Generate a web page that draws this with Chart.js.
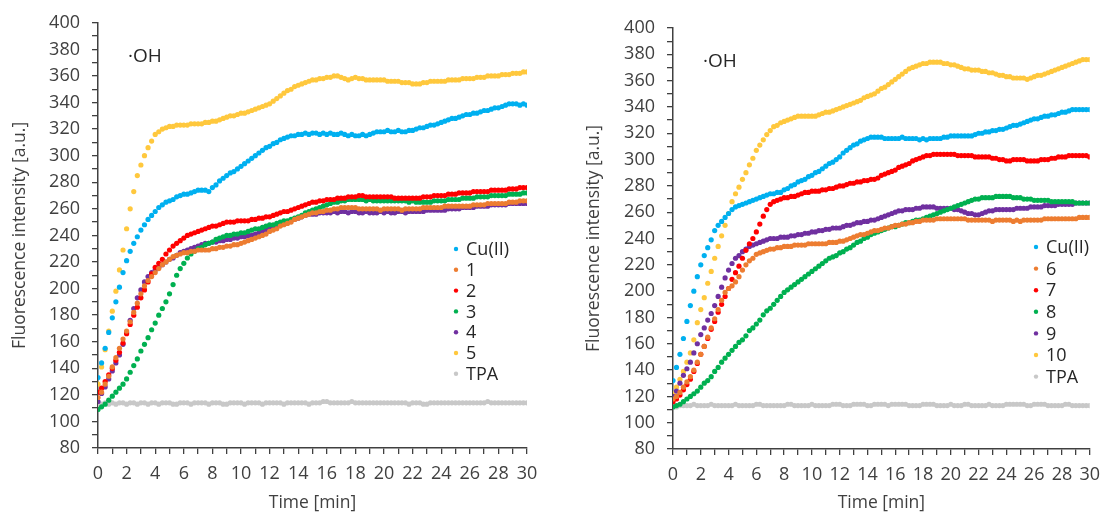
<!DOCTYPE html>
<html>
<head>
<meta charset="utf-8">
<title>Fluorescence intensity - OH</title>
<script src="https://cdn.jsdelivr.net/npm/chart.js"></script>
<style>
  html, body { margin: 0; padding: 0; background: #fff; }
  body { width: 1109px; height: 514px; position: relative; overflow: hidden; }
  canvas { position: absolute; top: 0; }
  #left { left: 0; }
  #right { left: 554px; }
</style>
</head>
<body>
<canvas id="left" width="550" height="514"></canvas>
<canvas id="right" width="555" height="514"></canvas>
<script>
// Tiempo de medida [min], cada 15 s
const TIME = [
  0,0.25,0.5,0.75,1,1.25,1.5,1.75,
  2,2.25,2.5,2.75,3,3.25,3.5,3.75,
  4,4.25,4.5,4.75,5,5.25,5.5,5.75,
  6,6.25,6.5,6.75,7,7.25,7.5,7.75,
  8,8.25,8.5,8.75,9,9.25,9.5,9.75,
  10,10.25,10.5,10.75,11,11.25,11.5,11.75,
  12,12.25,12.5,12.75,13,13.25,13.5,13.75,
  14,14.25,14.5,14.75,15,15.25,15.5,15.75,
  16,16.25,16.5,16.75,17,17.25,17.5,17.75,
  18,18.25,18.5,18.75,19,19.25,19.5,19.75,
  20,20.25,20.5,20.75,21,21.25,21.5,21.75,
  22,22.25,22.5,22.75,23,23.25,23.5,23.75,
  24,24.25,24.5,24.75,25,25.25,25.5,25.75,
  26,26.25,26.5,26.75,27,27.25,27.5,27.75,
  28,28.25,28.5,28.75,29,29.25,29.5,29.75,
  30
];

// ---- Panel izquierdo: Cu(II), 1-5, TPA ----
const L_CU = [
  133,144,155,167,178,190,201,212, 221,228,234,239,244,248,252,255,
  258,261,263,265,266,267,269,270, 271,271,272,273,274,274,274,273,
  276,278,281,283,285,287,288,290, 292,294,296,298,300,302,304,306,
  307,309,310,312,313,314,315,315, 316,316,317,316,317,317,316,317,
  316,317,316,316,317,316,315,316, 315,315,316,315,316,317,318,318,
  318,319,318,318,319,318,318,319, 319,320,321,321,322,323,323,324,
  325,326,327,328,328,329,330,331, 331,332,332,333,334,334,335,336,
  336,337,338,339,339,339,338,339, 338
];
const L_1 = [
  118,122,128,134,141,148,155,162, 168,175,182,189,196,202,206,209,
  212,215,218,220,222,224,225,226, 227,227,228,228,229,229,229,229,
  230,230,231,231,232,232,233,233, 234,235,236,237,238,239,240,241,
  243,244,245,247,248,249,250,252, 253,254,255,256,257,257,258,258,
  259,259,260,260,261,261,261,261, 261,260,260,260,260,260,260,259,
  260,260,260,260,260,259,260,260, 260,260,260,261,261,261,261,261,
  261,262,262,262,262,262,262,262, 262,263,263,263,263,264,264,264,
  264,264,264,265,265,265,266,266, 266
];
const L_2 = [
  122,125,130,135,140,146,152,159, 166,173,180,186,193,199,205,211,
  216,219,222,226,229,232,234,236, 238,240,241,242,243,244,245,246,
  247,247,248,249,250,250,250,251, 251,251,251,252,252,253,253,254,
  254,255,256,257,258,258,259,260, 261,262,263,264,265,265,266,266,
  267,267,267,268,268,268,269,269, 269,270,270,269,269,269,269,269,
  269,269,269,268,268,268,268,268, 268,268,268,269,269,269,270,270,
  270,270,271,271,271,272,272,272, 272,273,273,273,273,273,274,274,
  274,274,274,275,275,275,276,276, 276
];
const L_3 = [
  109,111,113,116,119,122,125,128, 132,137,142,147,153,158,163,169,
  174,180,185,190,196,203,210,215, 219,223,226,228,230,231,233,234,
  235,237,238,239,240,240,241,241, 242,242,243,244,245,245,246,247,
  248,248,249,250,251,251,252,253, 254,255,257,258,259,260,261,262,
  263,264,265,265,266,266,267,267, 267,267,267,266,267,266,266,266,
  266,266,266,266,266,266,266,265, 266,265,265,265,265,265,266,266,
  266,266,267,267,267,267,268,268, 268,268,269,269,269,269,270,270,
  270,270,270,271,271,271,271,272, 272
];
const L_4 = [
  115,121,126,132,138,144,150,158, 167,176,185,193,199,205,209,212,
  214,216,218,220,222,223,225,227, 228,229,230,231,232,233,234,234,
  235,235,236,236,237,237,238,238, 239,239,240,240,241,242,243,244,
  245,246,247,248,249,250,251,252, 253,254,255,256,256,256,257,257,
  257,257,258,257,258,258,257,258, 258,257,257,258,257,257,257,258,
  257,258,257,257,258,258,257,258, 258,258,258,258,259,259,259,259,
  259,259,260,260,260,260,261,261, 261,261,262,262,262,262,263,263,
  263,263,263,264,264,264,264,264, 264
];
const L_5 = [
  128,141,154,168,183,198,214,229, 245,260,273,285,293,300,306,311,
  316,318,320,321,322,322,323,323, 323,323,324,324,324,324,325,325,
  326,326,327,328,329,330,330,331, 332,332,333,334,335,336,337,338,
  339,341,343,345,347,349,350,352, 353,354,355,356,357,357,358,358,
  359,359,360,360,359,358,357,358, 359,358,358,357,357,357,357,357,
  357,356,356,356,356,355,355,355, 354,354,354,355,355,356,356,356,
  356,356,357,357,357,357,358,358, 358,358,359,359,359,360,360,360,
  360,361,361,361,362,362,362,363, 363
];
const L_TPA = [
  113,113,114,113,114,113,114,114, 113,114,114,113,114,114,113,114,
  114,113,114,114,114,113,113,114, 114,114,113,114,114,114,114,113,
  114,114,114,113,113,114,114,114, 114,113,114,114,114,114,113,114,
  114,114,114,114,113,114,114,114, 114,114,114,113,114,114,114,115,
  115,114,114,114,114,114,114,115, 114,114,114,114,114,114,114,114,
  114,114,114,114,114,114,114,113, 114,114,114,113,113,114,114,114,
  114,114,114,114,114,114,114,114, 114,114,114,114,114,115,114,114,
  114,114,114,114,114,114,114,114, 114
];

// ---- Panel derecho: Cu(II), 6-10, TPA ----
const R_CU = [
  132,142,152,164,177,189,200,211, 220,227,233,239,246,250,253,256,
  259,262,264,265,266,267,268,269, 270,271,272,273,274,274,275,275,
  277,278,280,281,283,284,285,287, 288,290,291,293,295,297,298,300,
  302,305,307,309,311,312,314,315, 316,317,317,317,317,316,316,316,
  316,316,317,316,316,316,316,315, 316,315,316,316,316,316,317,317,
  318,318,318,318,318,318,318,319, 320,320,321,321,322,322,323,323,
  324,325,326,326,327,328,329,330, 331,331,332,333,333,334,334,335,
  336,336,337,338,338,338,338,338, 338
];
const R_6 = [
  118,120,123,127,131,135,140,146, 152,158,165,172,179,186,193,199,
  202,204,207,211,216,220,223,225, 228,229,230,231,232,232,233,233,
  234,234,234,235,235,235,235,236, 236,236,236,236,236,237,237,237,
  238,238,239,240,241,242,243,243, 244,245,246,246,247,248,248,249,
  250,250,251,251,252,252,253,253, 254,254,254,254,255,255,255,255,
  255,255,255,255,255,254,254,254, 254,254,254,254,253,254,254,254,
  254,254,253,254,253,254,254,254, 254,254,254,255,255,255,255,255,
  255,255,255,255,255,256,256,256, 256
];
const R_7 = [
  116,118,121,125,129,133,139,145, 152,158,164,171,177,184,190,196,
  202,209,214,219,225,231,236,240, 245,251,257,262,266,268,269,270,
  271,271,272,272,273,274,275,275, 276,276,276,277,277,278,278,279,
  280,280,281,282,282,283,283,284, 284,285,285,286,288,289,290,291,
  292,294,295,296,297,299,300,301, 302,303,303,304,304,304,304,304,
  304,304,303,303,303,303,303,302, 302,302,302,302,301,301,300,300,
  299,299,300,300,300,300,299,299, 299,299,300,300,300,301,301,302,
  302,302,303,303,303,303,303,303, 302
];
const R_8 = [
  112,113,114,116,118,120,122,124, 127,130,132,135,139,142,146,149,
  152,155,158,161,163,166,170,172, 175,178,182,185,187,190,193,196,
  199,201,203,205,207,209,211,213, 215,217,219,221,223,225,226,227,
  229,230,232,233,235,237,238,240, 241,243,244,245,246,247,248,249,
  249,250,251,252,252,253,254,254, 255,256,257,258,259,260,261,262,
  263,264,265,266,267,268,269,270, 270,271,271,271,271,272,272,272,
  272,272,271,271,271,270,270,270, 269,269,269,269,269,268,268,268,
  268,268,268,268,267,267,267,267, 267
];
const R_9 = [
  120,124,130,136,141,146,153,160, 167,172,178,183,189,196,203,210,
  216,221,225,227,230,232,234,235, 236,237,238,239,240,240,240,241,
  241,241,242,242,243,243,244,244, 245,245,246,246,247,247,248,248,
  248,249,250,250,251,252,252,253, 253,254,254,255,256,257,258,259,
  260,261,261,262,262,262,263,263, 264,264,264,264,263,263,263,263,
  263,262,262,261,260,259,259,258, 258,259,260,261,261,262,262,262,
  262,262,262,263,263,263,263,264, 264,264,264,265,265,265,265,266,
  266,266,266,266,267,267,267,267, 267
];
const R_10 = [
  122,127,133,139,146,153,163,176, 186,195,206,215,225,234,242,250,
  259,268,274,279,285,290,296,301, 307,311,315,319,322,325,326,328,
  329,330,331,332,333,333,333,333, 333,333,334,335,336,336,337,338,
  339,340,341,342,343,344,345,347, 348,349,350,352,354,355,357,359,
  361,363,365,367,369,370,371,372, 373,373,374,374,374,374,373,373,
  372,372,371,370,369,369,368,368, 368,367,367,366,366,365,364,364,
  363,363,362,362,362,362,361,362, 363,364,364,365,366,367,368,369,
  370,371,372,373,374,375,376,376, 376
];
const R_TPA = [
  112,112,113,113,113,113,114,113, 113,113,113,114,113,113,113,113,
  113,113,114,113,113,113,113,113, 114,114,113,113,113,113,113,113,
  113,114,114,113,113,113,113,113, 114,113,113,113,113,113,114,114,
  114,113,113,113,114,114,114,114, 113,113,114,114,114,114,113,114,
  114,114,114,114,113,113,113,113, 114,114,114,114,113,113,113,113,
  114,113,113,113,114,114,113,113, 113,113,113,114,113,113,113,113,
  114,114,114,114,114,114,113,113, 114,114,114,114,113,113,113,113,
  113,114,114,113,113,113,113,113, 113
];

const LABELS_LEFT = ['Cu(II)', '1', '2', '3', '4', '5', 'TPA'];
const LABELS_RIGHT = ['Cu(II)', '6', '7', '8', '9', '10', 'TPA'];
const COLORS = ['#00B0F0', '#ED7D31', '#FF0000', '#00B050', '#7030A0', '#FFC83D', '#C8C8C8'];

const INK = '#404040';
Chart.defaults.font.family = '"Open Sans", "Noto Sans", sans-serif';
Chart.defaults.color = INK;

// Leyenda dentro del área y etiqueta ·OH
const panelDecor = {
  id: 'panelDecor',
  afterDatasetsDraw(chart, args, opts) {
    const ctx = chart.ctx;
    const area = chart.chartArea;
    ctx.save();
    ctx.textBaseline = 'middle';
    ctx.fillStyle = '#262626';
    ctx.font = '19px "Open Sans"';
    ctx.fillText('\u00B7OH', area.left + 30, area.top + 34);
    ctx.font = '18px "Open Sans"';
    chart.data.datasets.forEach((ds, i) => {
      const y = opts.legendY + i * opts.legendStep;
      ctx.fillStyle = ds.backgroundColor;
      ctx.beginPath();
      ctx.arc(opts.legendX, y, 2.2, 0, Math.PI * 2);
      ctx.fill();
      ctx.fillStyle = '#262626';
      ctx.fillText(ds.label, opts.legendX + 10, y + 1);
    });
    ctx.restore();
  }
};

function crearPanel(id, labels, series, cfg) {
  const datasets = series.map((s, i) => ({
    label: labels[i],
    data: s,
    backgroundColor: COLORS[i],
    borderColor: COLORS[i],
    showLine: false,
    pointRadius: 2.6,
    pointBorderWidth: 0,
    pointHoverRadius: 2.6
  }));
  return new Chart(document.getElementById(id), {
    type: 'line',
    data: { labels: TIME, datasets: datasets },
    plugins: [panelDecor],
    options: {
      responsive: false,
      animation: false,
      events: [],
      layout: { padding: { left: 0, top: cfg.top, right: cfg.right, bottom: 0 } },
      plugins: {
        legend: { display: false },
        tooltip: { enabled: false },
        panelDecor: { legendX: cfg.legendX, legendY: cfg.legendY, legendStep: cfg.legendStep }
      },
      scales: {
        x: {
          type: 'linear',
          min: 0,
          max: 30,
          afterFit: scale => { scale.height = cfg.xHeight; },
          grid: { drawOnChartArea: false, tickLength: 6, color: INK, lineWidth: 1.3 },
          border: { color: INK, width: 1.5 },
          ticks: {
            stepSize: 1,
            autoSkip: false,
            maxRotation: 0,
            padding: 9,
            font: { size: 18 },
            callback: v => (v % 2 === 0 ? v : '')
          },
          title: { display: true, text: 'Time [min]', font: { size: 17.5 }, padding: { top: 0, bottom: 0 } }
        },
        y: {
          min: 80,
          max: 400,
          afterFit: scale => { scale.width = cfg.yWidth; },
          grid: { drawOnChartArea: false, tickLength: 6, color: INK, lineWidth: 1.3 },
          border: { color: INK, width: 1.5 },
          ticks: {
            stepSize: 10,
            autoSkip: false,
            padding: 12,
            font: { size: 18 },
            callback: v => (v % 20 === 0 ? v : '')
          },
          title: {
            display: true,
            text: 'Fluorescence intensity [a.u.]',
            font: { size: 17.5 },
            padding: { top: cfg.titlePad, bottom: 0 }
          }
        }
      }
    }
  });
}

crearPanel('left', LABELS_LEFT, [L_CU, L_1, L_2, L_3, L_4, L_5, L_TPA], {
  top: 22, right: 23, xHeight: 66, yWidth: 98, titlePad: 10,
  legendX: 456, legendY: 249, legendStep: 20.8
});
crearPanel('right', LABELS_RIGHT, [R_CU, R_6, R_7, R_8, R_9, R_10, R_TPA], {
  top: 28, right: 11, xHeight: 65, yWidth: 119, titlePad: 30,
  legendX: 482, legendY: 247, legendStep: 21.6
});
</script>
</body>
</html>
